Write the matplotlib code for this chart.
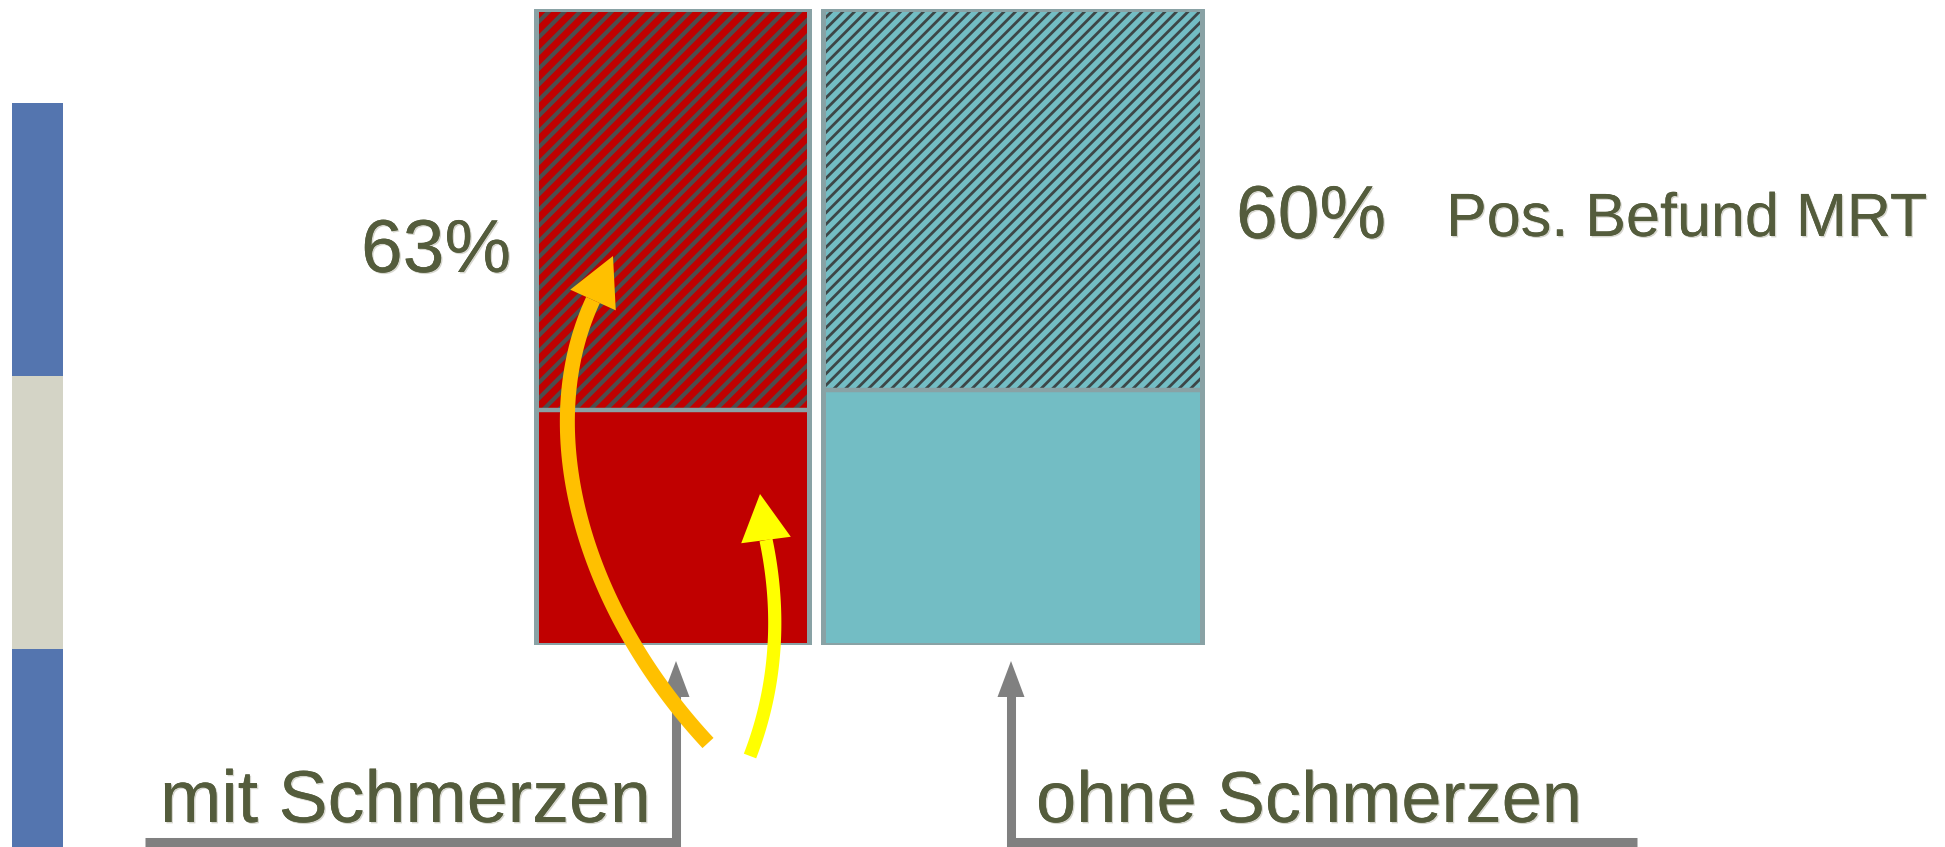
import numpy as np
import matplotlib.pyplot as plt
from matplotlib.patches import Polygon
import matplotlib.patheffects as pe

# Anteil mit positivem MRT-Befund je Gruppe (in %)
gruppen = ['mit Schmerzen', 'ohne Schmerzen']
pos_mrt = [63, 60]
gesamt = [100, 100]
befund_label = 'Pos. Befund MRT'

# Farben
rot = '#c00000'
tuerkis = '#73bdc4'
schraffur = ['#4d4d4d', '#3c4647']
rahmen = '#89a2a5'
text_farbe = '#545c3c'
grau = '#808080'

plt.rcParams['font.family'] = ['Liberation Sans', 'DejaVu Sans']

W, H = 1945, 847
fig = plt.figure(figsize=(W / 100, H / 100), dpi=100)

# Overlay in Pixelkoordinaten (für Text, Pfeile, Schraffur)
ov = fig.add_axes([0, 0, 1, 1])
ov.set_xlim(0, W)
ov.set_ylim(H, 0)
ov.axis('off')
ov.patch.set_alpha(0)
ov.set_zorder(2)

# Balken-Achse: y in Prozent, x in Pixeln
y_unten, y_oben = 645, 8.7
bx = fig.add_axes([0, (H - y_unten) / H, 1, (y_unten - y_oben) / H])
bx.set_xlim(0, W)
bx.set_ylim(0, 100)
bx.axis('off')
bx.set_zorder(1)

x_links = [536, 823]
breite = [273, 379]
# Schraffur: horizontaler Linienabstand (px) und Strichstärke (pt)
schr_abstand = [15.7, 11.5]
schr_lw = [3.0, 2.0]

for i in range(len(gruppen)):
    neg = gesamt[i] - pos_mrt[i]
    farbe = [rot, tuerkis][i]
    bx.bar(x_links[i], neg, width=breite[i], align='edge', color=farbe, linewidth=0)
    oben = bx.bar(x_links[i], pos_mrt[i], bottom=neg, width=breite[i], align='edge',
                  color=farbe, linewidth=0)[0]

    # diagonale Schraffur im Pixelraum, auf den Balken geclippt
    bb = oben.get_bbox().transformed(bx.transData).transformed(ov.transData.inverted())
    x0, x1 = bb.x0, bb.x1
    y0, y1 = min(bb.y0, bb.y1), max(bb.y0, bb.y1)
    for c in np.arange(x0 + y0, x1 + y1 + schr_abstand[i], schr_abstand[i]):
        ln, = bx.plot([c - y1, c - y0], [y1, y0], color=schraffur[i],
                      linewidth=schr_lw[i], transform=ov.transData,
                      solid_capstyle='butt', zorder=1.5)
        ln.set_clip_path(oben)

    bx.bar(x_links[i], gesamt[i], width=breite[i], align='edge', fill=False,
           edgecolor=rahmen, linewidth=3.6, joinstyle='round', zorder=3)
    bx.hlines(neg, x_links[i], x_links[i] + breite[i], color=rahmen,
              linewidth=3.2, zorder=3)

# Farbleiste am linken Rand
streifen = [(103, 376, '#5475af'), (376, 649, '#d4d4c6'), (649, 847, '#5475af')]
for y0, y1, c in streifen:
    ov.add_patch(plt.Rectangle((12, y0), 51, y1 - y0, color=c, linewidth=0))

schatten = [pe.withSimplePatchShadow(offset=(1, -1), shadow_rgbFace='#d6d6ce', alpha=1),
            pe.Normal()]

def beschriftung(x, y, s, size):
    ov.text(x, y, s, fontsize=size, color=text_farbe, ha='left', va='baseline',
            path_effects=schatten)

beschriftung(160, 822, gruppen[0], 53)
beschriftung(1036, 822, gruppen[1], 52)
beschriftung(361, 272, f'{pos_mrt[0]}%', 54)
beschriftung(1236, 238, f'{pos_mrt[1]}%', 54)
beschriftung(1446, 236, befund_label, 44)


def spitze(ax, basis, tip, b, farbe, z):
    basis = np.array(basis, float)
    tip = np.array(tip, float)
    d = tip - basis
    n = np.array([-d[1], d[0]]) / np.hypot(*d)
    pts = [tip, basis + n * b / 2, basis - n * b / 2]
    ax.add_patch(Polygon(pts, closed=True, facecolor=farbe, edgecolor='none', zorder=z))


# graue Winkelpfeile unter den Gruppen
for pfad in ([(145, 842), (676, 842), (676, 692)],
             [(1637, 842), (1011, 842), (1011, 692)]):
    xs, ys = zip(*pfad)
    ov.plot(xs, ys, color=grau, linewidth=6.5, solid_joinstyle='miter',
            solid_capstyle='butt', zorder=3)
    spitze(ov, (xs[-1], 697), (xs[-1], 661), 27, grau, 3)


def bezier(p0, p1, p2, p3, n=80):
    t = np.linspace(0, 1, n)[:, None]
    p0, p1, p2, p3 = map(np.array, (p0, p1, p2, p3))
    return ((1 - t) ** 3 * p0 + 3 * (1 - t) ** 2 * t * p1
            + 3 * (1 - t) * t ** 2 * p2 + t ** 3 * p3)


# gebogene Pfeile
bogen = [
    dict(p=[(708, 743), (586, 612), (531, 434), (593, 300)], tip=(613, 256),
         farbe='#ffc000', lw=10.8, kopf=50),
    dict(p=[(750, 756), (779, 681), (780, 607), (766, 540)], tip=(760, 494),
         farbe='#ffff00', lw=9.5, kopf=50),
]
for b in bogen:
    k = bezier(*b['p'])
    ov.plot(k[:, 0], k[:, 1], color=b['farbe'], linewidth=b['lw'],
            solid_capstyle='butt', zorder=5)
    spitze(ov, b['p'][-1], b['tip'], b['kopf'], b['farbe'], 5)

fig.savefig('out.png', dpi=100)
